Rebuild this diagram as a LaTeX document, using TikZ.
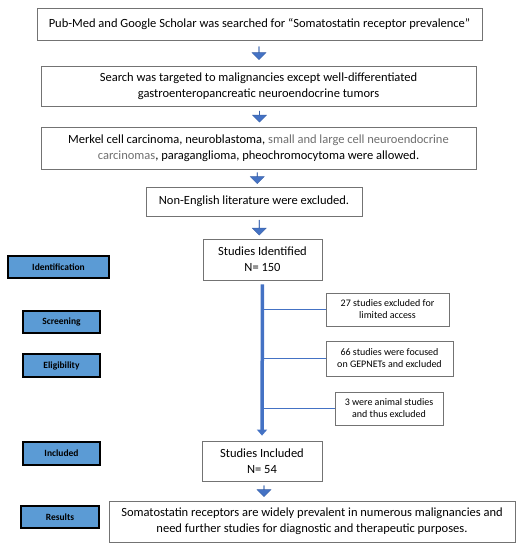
\documentclass[tikz,border=0pt]{standalone}
\usepackage{fontspec}
\setmainfont{Carlito}
\usetikzlibrary{shapes.arrows,arrows.meta,calc}
\definecolor{lineblue}{HTML}{4472C4}
\definecolor{labblue}{HTML}{5B9BD5}
\definecolor{txtgray}{HTML}{6F6F6F}
\begin{document}
\begin{tikzpicture}[x=1pt,y=-1pt,>=latex]
	\tikzstyle{box}=[draw=black!55,line width=0.8pt,fill=white,
	align=center,inner sep=0pt,
	font=\fontsize{12.5}{16}\selectfont
	]
	\tikzstyle{exbox}=[box, font=\fontsize{10}{12}\selectfont];
	\tikzstyle{lab}=[draw=black,line width=1.2pt,fill=labblue,
	inner sep=0pt,font=\fontsize{9.5}{10}\selectfont\bfseries];
	\tikzstyle{barrow}=[single arrow,fill=lineblue,draw=lineblue!85!black,line width=0.3pt,
	shape border rotate=270,inner sep=0pt,minimum height=13pt,minimum width=14pt,
	single arrow head extend=3.8pt];

\useasboundingbox (0,0) rectangle (524,550);

% main column
\node[box,minimum width=445pt,minimum height=32pt](search) at (259.5,24){Pub-Med and Google Scholar was searched for “Somatostatin receptor prevalence”};
\node[box,minimum width=435pt,minimum height=40pt](target) at (258.5,86){Search was targeted to malignancies except well-differentiated\\gastroenteropancreatic neuroendocrine tumors};
\node[box,minimum width=435pt,minimum height=42pt](allowed) at (258.5,148){Merkel cell carcinoma, neuroblastoma, {\color{txtgray}small and large cell neuroendocrine}\\{\color{txtgray}carcinomas}, paraganglioma, pheochromocytoma were allowed.};
\node[box,minimum width=216pt,minimum height=29pt](nonen) at (254,201.5){Non-English literature were excluded.};
\node[box,minimum width=119pt,minimum height=41pt](ident) at (262.5,259.5){Studies Identified\\N= 150};
\node[box,minimum width=120pt,minimum height=40pt](incl) at (262,461){Studies Included\\N= 54};
\node[box,minimum width=406pt,minimum height=41pt](res) at (312,521.5){Somatostatin receptors are widely prevalent in numerous malignancies and\\need further studies for diagnostic and therapeutic purposes.};

% exclusions
\node[exbox,minimum width=123pt,minimum height=33pt](ex1) at (387.5,309.5){27 studies excluded for\\limited access};
\node[exbox,minimum width=127pt,minimum height=35pt](ex2) at (389.5,358.5){66 studies were focused\\on GEPNETs and excluded};
\node[exbox,minimum width=108pt,minimum height=33pt](ex3) at (389,408.5){3 were animal studies\\and thus excluded};

% stage labels
\node[lab,minimum width=101pt,minimum height=22pt](lident) at (58.5,267){Identification};
\node[lab,minimum width=77pt,minimum height=22pt](lscr) at (61.5,322){Screening};
\node[lab,minimum width=77pt,minimum height=23pt](lelig) at (61.5,365.5){Eligibility};
\node[lab,minimum width=77pt,minimum height=23pt](lincl) at (61.5,453.5){Included};
\node[lab,minimum width=78pt,minimum height=22pt](lres) at (60,517){Results};

% block arrows
\node[barrow](a1) at ($(search.south)!0.5!(target.north)$){};
\node[barrow,minimum height=11pt](a2) at ($(target.south)!0.5!(allowed.north)+(1,0)$){};
\node[barrow,minimum height=11pt](a3) at ($(allowed.south)!0.5!(nonen.north)+(1,0)$){};
\node[barrow,minimum height=15pt](a4) at ($(nonen.south)!0.5!(ident.north)+(1,0)$){};
\node[barrow,minimum height=11pt](a5) at ($(incl.south)!0.5!(incl.south|-res.north)+(2,0)$){};

% trunk and branches
\coordinate (t) at (ident.south);
\draw[lineblue,line width=3.5pt,shorten <=4pt,shorten >=5pt,-{Triangle[width=10pt,length=6pt]}] (ident.south) -- (incl.north);
\draw[lineblue,line width=1.6pt] (ex1.west) -- (ex1.west -| t);
\draw[lineblue,line width=1.6pt] (ex2.west) -- (ex2.west -| t);
\draw[lineblue,line width=1.6pt] (ex3.west) -- (ex3.west -| t);

\end{tikzpicture}
\end{document}
